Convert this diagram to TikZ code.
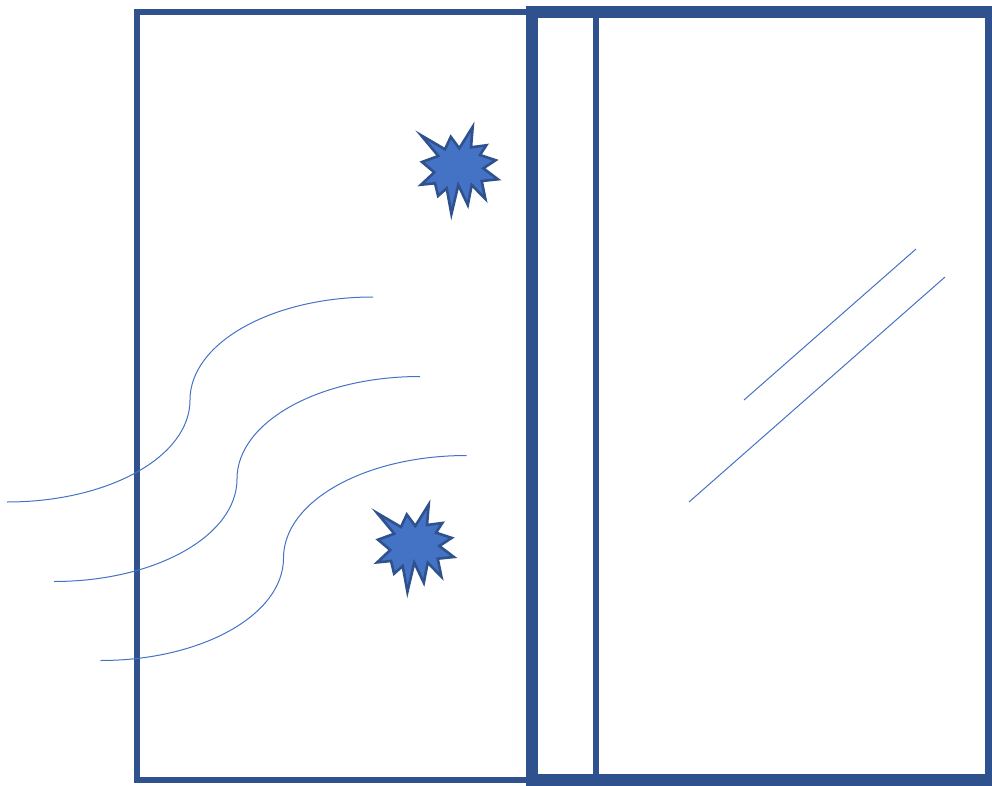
\documentclass[tikz,border=0pt]{standalone}
\definecolor{edgeblue}{HTML}{2F528F}
\definecolor{fillblue}{HTML}{4472C4}
\tikzset{
  thinframe/.style={draw=edgeblue,line width=5.5pt,miter limit=10},
  thickframe/.style={draw=edgeblue,line width=12pt},
  burst/.style={draw=edgeblue,fill=fillblue,line width=2.6pt,line join=miter,miter limit=10},
  wave/.style={draw=fillblue,line width=1pt},
}
\newcommand{\burstshape}[2]{%
  \begin{scope}[shift={(#1,#2)}]
  \draw[burst] (-78.9,-81.7) -- (-55,-67.7) -- (-49.2,-80.2) -- (-40.7,-68.7) -- (-27.3,-90.2) -- (-29,-69.7) -- (-13.7,-71.7) -- (-20,-62) -- (-4.3,-56.8) -- (-16.7,-48.7) -- (-2.1,-37.7) -- (-18.3,-36) -- (-14.6,-18) -- (-28.3,-32) -- (-32.2,-12) -- (-41.7,-32) -- (-48.6,-2.9) -- (-53.3,-28.7) -- (-61.9,-21.1) -- (-65,-33.7) -- (-78.9,-32.3) -- (-65.7,-44.7) -- (-78,-55) -- (-61.7,-61) -- cycle;
  \end{scope}}
\begin{document}
\begin{tikzpicture}[x=1pt,y=-1pt]
\useasboundingbox (0,0) rectangle (992,786);
\begin{scope}
\clip (0,0) rectangle (992,786);
\draw[thinframe] (533,12) -- (137,12) -- (137,780) -- (533,780);
\draw[thinframe] (596,12) -- (596,780);
\draw[thickframe] (532,12) rectangle (991,780);
\end{scope}
\burstshape{500}{217}
\burstshape{456}{594.7}
\draw[wave] (373,297) .. controls (272,297) and (190,343) .. (190,400) .. controls (190,457) and (108,502) .. (7,502);
\draw[wave] (420,376.5) .. controls (319,376.5) and (237,422) .. (237,479) .. controls (237,536) and (155,581.5) .. (54,581.5);
\draw[wave] (466.5,455.5) .. controls (365.5,455.5) and (283.5,501) .. (283.5,558) .. controls (283.5,615) and (201.5,660.5) .. (100.5,660.5);
\draw[wave] (916,249) -- (744,400);
\draw[wave] (945,277) -- (689,502);
\end{tikzpicture}
\end{document}
